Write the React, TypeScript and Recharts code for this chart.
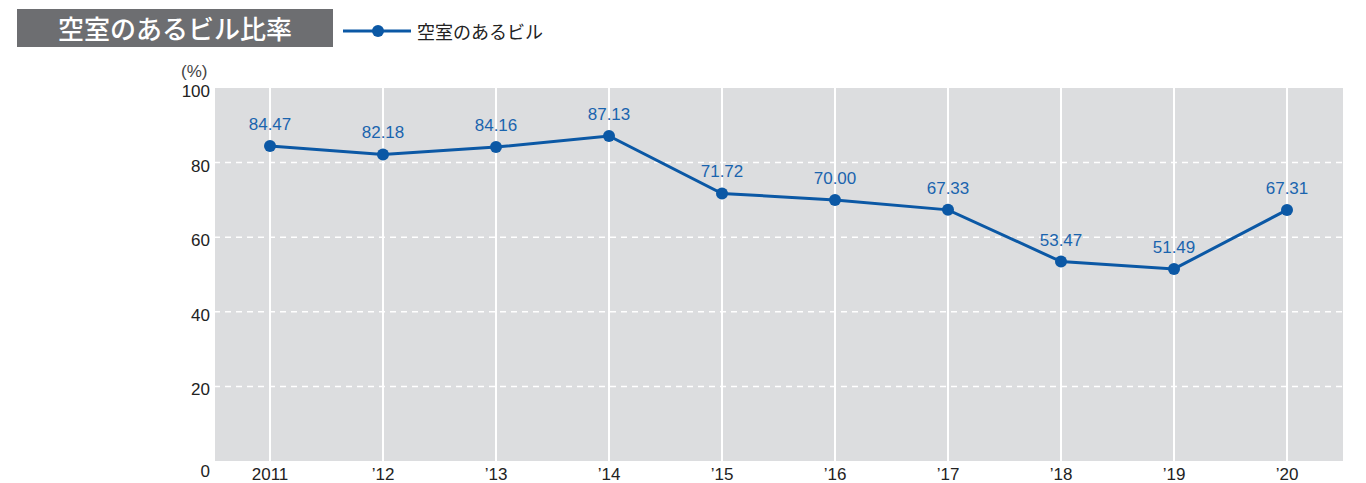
import React from "react";
import { LineChart, Line, XAxis, YAxis, CartesianGrid, LabelList } from "recharts";

const years = ["2011", "\u201912", "\u201913", "\u201914", "\u201915", "\u201916", "\u201917", "\u201918", "\u201919", "\u201920"];
const ratios = [84.47, 82.18, 84.16, 87.13, 71.72, 70.0, 67.33, 53.47, 51.49, 67.31];
const yTicks = [0, 20, 40, 60, 80, 100];
const gridValues = [20, 40, 60, 80];

const data = years.map((y, i) => ({ year: y, value: ratios[i] }));

const LINE = "#0b58a5";
const LABEL = "#1a64ae";
const FONT = "Arial, 'Liberation Sans', 'Noto Sans CJK JP', sans-serif";
const JP = "'Noto Sans CJK JP', sans-serif";

const YTick = (props: any) => {
  const { x, y, payload } = props;
  const extra = payload.value === 0 ? 10 : 3;
  return (
    <text x={x} y={y + extra} dy="0.35em" textAnchor="end" fontSize={17} fill="#222" fontFamily={FONT}>
      {payload.value}
    </text>
  );
};

const XTick = (props: any) => {
  const { x, payload } = props;
  return (
    <text x={x} y={474} dy="0.35em" textAnchor="middle" fontSize={17} fill="#222" fontFamily={FONT}>
      {payload.value}
    </text>
  );
};

export default function App() {
  return (
    <div style={{ position: "absolute", left: 0, top: 0, width: 1366, height: 483, background: "#fff" }}>
      <LineChart width={1366} height={483} data={data} margin={{ top: 88, right: 22, bottom: 0, left: 164 }}>
        <CartesianGrid fill="#dcdddf" stroke="#ffffff" strokeWidth={2} horizontal={false} vertical={true} />
        <CartesianGrid fill="none" stroke="#ffffff" strokeWidth={1.5} strokeDasharray="6 5" horizontalValues={gridValues} vertical={false} />
        <XAxis
          dataKey="year"
          axisLine={false}
          tickLine={false}
          height={22}
          padding={{ left: 56, right: 57 }}
          tick={<XTick />}
          tickSize={0}
          interval={0}
        />
        <YAxis
          domain={[0, 100]}
          ticks={yTicks}
          axisLine={false}
          tickLine={false}
          tickSize={0}
          tickMargin={4}
          width={50}
          tick={<YTick />}
          interval={0}
        />
        <Line
          type="linear"
          dataKey="value"
          stroke={LINE}
          strokeWidth={3}
          dot={{ r: 6, fill: LINE, stroke: LINE, strokeWidth: 0 }}
          isAnimationActive={false}
        >
          <LabelList
            dataKey="value"
            position="top"
            offset={16}
            formatter={(v: any) => Number(v).toFixed(2)}
            style={{ fontSize: 17, fill: LABEL, fontFamily: FONT }}
          />
        </Line>
      </LineChart>
      <div
        style={{
          position: "absolute",
          left: 17,
          top: 9,
          width: 316,
          height: 38,
          background: "#6d6e71",
          color: "#fff",
          fontFamily: JP,
          fontWeight: 500,
          fontSize: 26,
          lineHeight: "38px",
          textAlign: "center",
        }}
      >
        空室のあるビル比率
      </div>
      <svg style={{ position: "absolute", left: 341, top: 21 }} width={72} height={20}>
        <line x1={2} y1={10} x2={70} y2={10} stroke={LINE} strokeWidth={3} />
        <circle cx={37} cy={10} r={6} fill={LINE} />
      </svg>
      <div
        style={{
          position: "absolute",
          left: 417,
          top: 18,
          fontFamily: JP,
          fontSize: 18,
          lineHeight: "26px",
          color: "#222",
        }}
      >
        空室のあるビル
      </div>
      <div
        style={{
          position: "absolute",
          left: 181,
          top: 61,
          fontFamily: FONT,
          fontSize: 17,
          lineHeight: "22px",
          color: "#444",
        }}
      >
        (%)
      </div>
    </div>
  );
}
